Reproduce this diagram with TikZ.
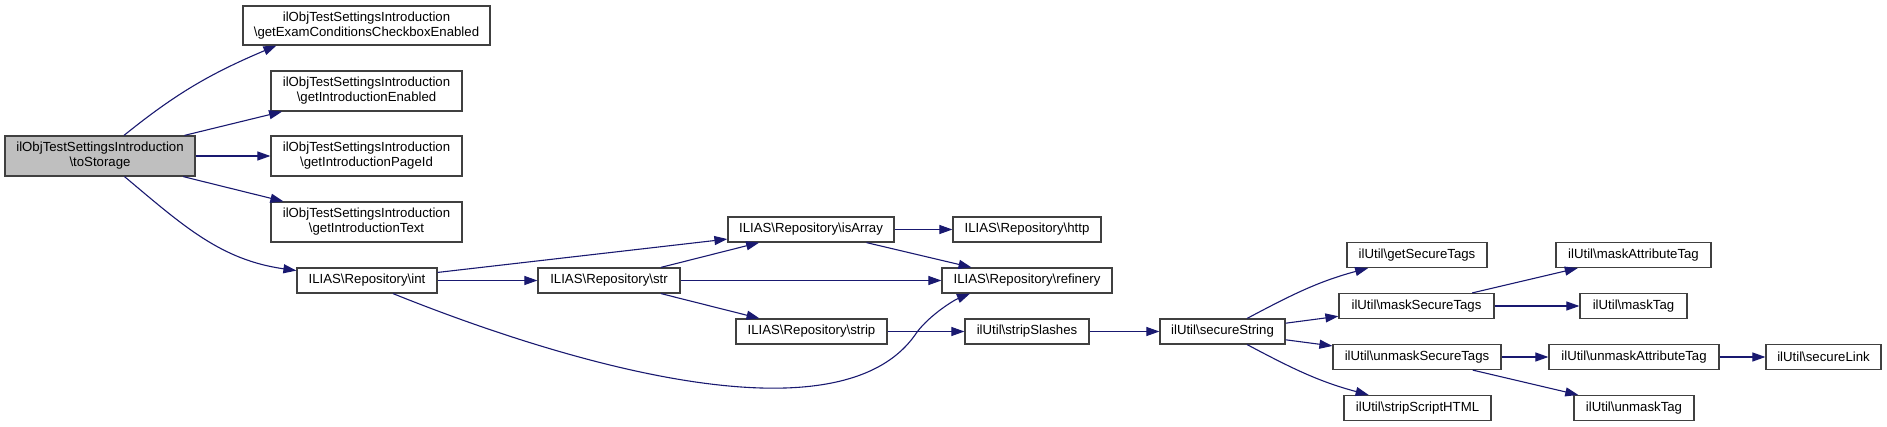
\documentclass[tikz,border=0pt]{standalone}
\usepackage{fontspec}
\setmainfont{Liberation Sans}
\usetikzlibrary{arrows.meta}
\definecolor{edgeblue}{HTML}{191970}
\newcommand{\bsl}{\textbackslash}
\begin{document}
\begin{tikzpicture}[x=1pt,y=1pt,
  box/.style={draw=black!75,line width=1.2pt,inner sep=0pt,minimum height=25pt,align=center,font=\fontsize{13.2}{15}\selectfont},
  edge/.style={draw=edgeblue,line width=1.1pt,-{Triangle[length=13pt,width=9pt]}}]
\useasboundingbox (0,0) rectangle (1887,-426);
%\draw[step=50,gray,very thin] (0,0) grid (1887,-426); %background grid
\node[box,fill=black!25,minimum width=190pt,minimum height=40pt] (toStorage) at (100,-156) {ilObjTestSettingsIntroduction\\\bsl toStorage};
\node[box,minimum width=247pt,minimum height=39pt] (getExam) at (366.5,-25.5) {ilObjTestSettingsIntroduction\\\bsl getExamConditionsCheckboxEnabled};
\node[box,minimum width=191pt,minimum height=40pt] (getIntroEnabled) at (366.5,-91) {ilObjTestSettingsIntroduction\\\bsl getIntroductionEnabled};
\node[box,minimum width=191pt,minimum height=40pt] (getIntroPageId) at (366.5,-156) {ilObjTestSettingsIntroduction\\\bsl getIntroductionPageId};
\node[box,minimum width=191pt,minimum height=40pt] (getIntroText) at (366.5,-222) {ilObjTestSettingsIntroduction\\\bsl getIntroductionText};
\node[box,minimum width=140pt] (int) at (367,-280.5) {ILIAS\bsl Repository\bsl int};
\node[box,minimum width=142pt] (str) at (609,-280.5) {ILIAS\bsl Repository\bsl str};
\node[box,minimum width=166pt] (isArray) at (811,-229.5) {ILIAS\bsl Repository\bsl isArray};
\node[box,minimum width=151pt] (strip) at (811.5,-331.5) {ILIAS\bsl Repository\bsl strip};
\node[box,minimum width=148pt] (http) at (1027,-229.5) {ILIAS\bsl Repository\bsl http};
\node[box,minimum width=170pt] (refinery) at (1027,-280.5) {ILIAS\bsl Repository\bsl refinery};
\node[box,minimum width=124pt] (stripSlashes) at (1027,-331.5) {ilUtil\bsl stripSlashes};
\node[box,minimum width=125pt] (secureString) at (1222.5,-331.5) {ilUtil\bsl secureString};
\node[box,minimum width=140pt] (getSecureTags) at (1417,-255) {ilUtil\bsl getSecureTags};
\node[box,minimum width=155pt] (maskSecureTags) at (1416.5,-306) {ilUtil\bsl maskSecureTags};
\node[box,minimum width=168pt] (unmaskSecureTags) at (1417,-357) {ilUtil\bsl unmaskSecureTags};
\node[box,minimum width=147pt] (stripScriptHTML) at (1417.5,-408) {ilUtil\bsl stripScriptHTML};
\node[box,minimum width=155pt] (maskAttributeTag) at (1633.5,-255) {ilUtil\bsl maskAttributeTag};
\node[box,minimum width=107pt] (maskTag) at (1633.5,-306) {ilUtil\bsl maskTag};
\node[box,minimum width=170pt] (unmaskAttributeTag) at (1634,-357) {ilUtil\bsl unmaskAttributeTag};
\node[box,minimum width=120pt] (unmaskTag) at (1634,-408) {ilUtil\bsl unmaskTag};
\node[box,minimum width=115pt] (secureLink) at (1823.5,-357) {ilUtil\bsl secureLink};
\foreach \a/\b in {toStorage/getIntroEnabled,toStorage/getIntroPageId,toStorage/getIntroText,
  int/isArray,int/str,str/isArray,str/refinery,str/strip,isArray/http,isArray/refinery,
  strip/stripSlashes,stripSlashes/secureString,secureString/maskSecureTags,secureString/unmaskSecureTags,
  maskSecureTags/maskAttributeTag,maskSecureTags/maskTag,unmaskSecureTags/unmaskAttributeTag,
  unmaskSecureTags/unmaskTag,unmaskAttributeTag/secureLink}
  \draw[edge] (\a) -- (\b);
\draw[edge] ([xshift=24]toStorage.north) to[out=39,in=203] ([xshift=34]getExam.south west);
\draw[edge] (toStorage) to[out=-40,in=172] (int);
\draw[edge] ([xshift=26]int.south) .. controls (578,-368) and (840,-441) .. (915,-335)
  .. controls (926,-318) and (952,-301) .. ([xshift=-57]refinery.south);
\draw[edge] (secureString) to[out=28,in=195] (getSecureTags);
\draw[edge] (secureString) to[out=-28,in=165] (stripScriptHTML);
\end{tikzpicture}
\end{document}
